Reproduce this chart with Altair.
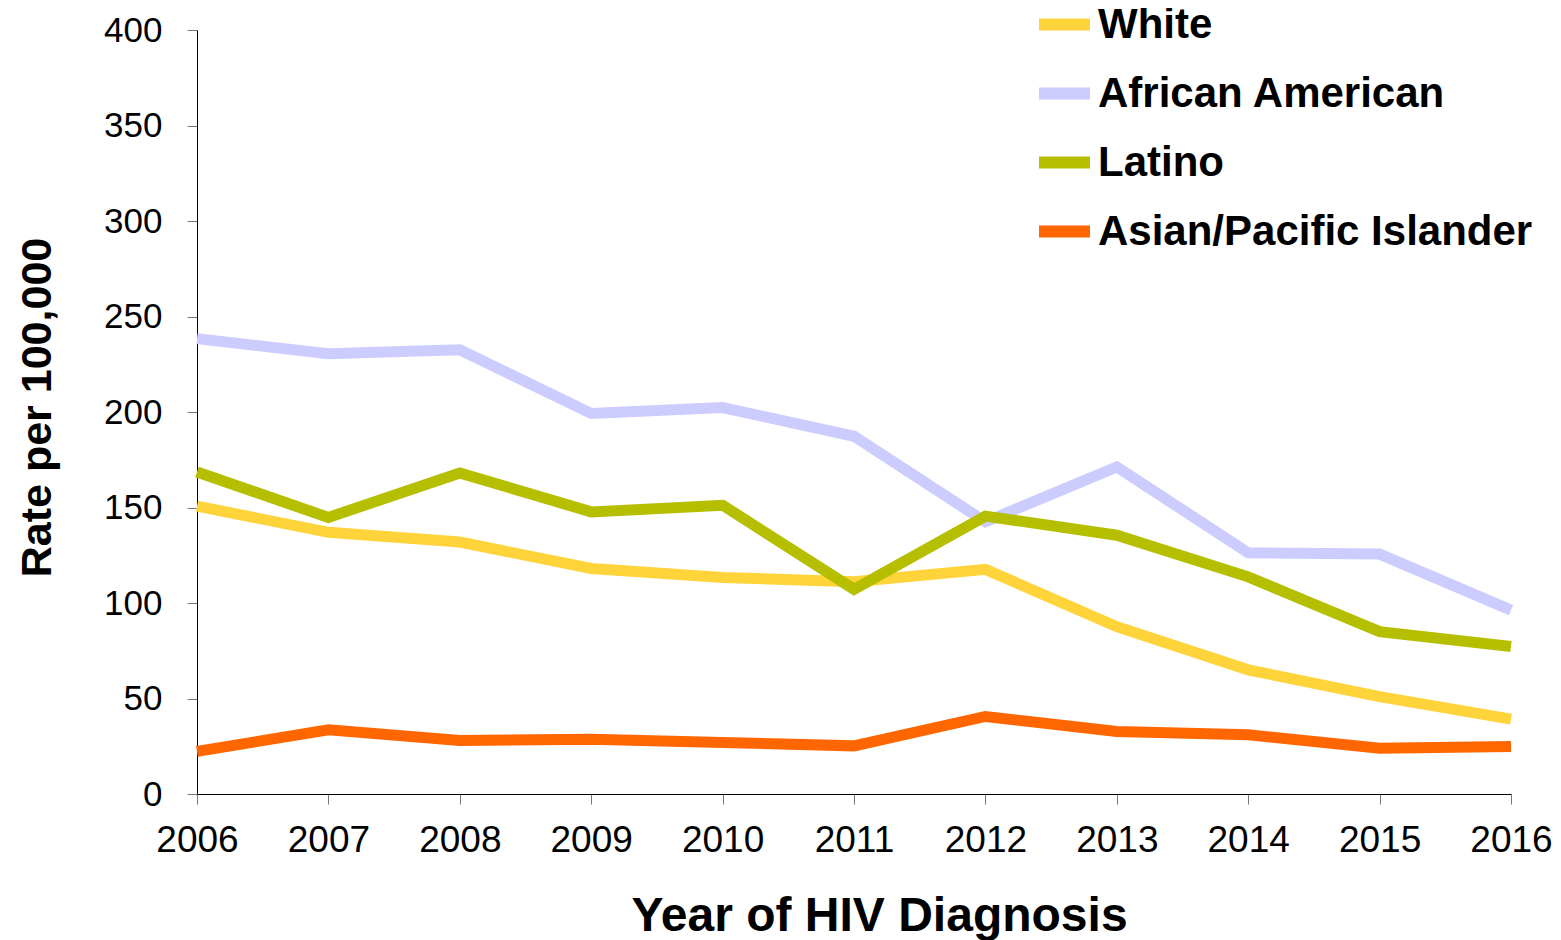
import altair as alt
import pandas as pd

years = [2006, 2007, 2008, 2009, 2010, 2011, 2012, 2013, 2014, 2015, 2016]
series_names = ["White", "African American", "Latino", "Asian/Pacific Islander"]
series_colors = ["#FFD33A", "#CCCCFF", "#B5BF00", "#FF6600"]
white = [150.7, 137.0, 131.9, 118.1, 113.4, 111.1, 117.6, 87.6, 65.0, 51.0, 39.2]
african_american = [238.4, 230.5, 232.6, 199.2, 202.3, 187.3, 142.5, 171.2, 126.3, 125.6, 96.3]
latino = [168.6, 144.8, 168.1, 147.7, 151.2, 107.2, 145.5, 135.5, 113.7, 85.0, 77.2]
asian_pi = [22.3, 33.6, 28.0, 28.7, 27.0, 25.2, 40.6, 32.7, 31.0, 24.0, 24.9]
y_ticks = [0, 50, 100, 150, 200, 250, 300, 350, 400]

values = [white, african_american, latino, asian_pi]
rows = []
for name, vals in zip(series_names, values):
    for yr, v in zip(years, vals):
        rows.append({"year": yr, "rate": v, "group": name})
df = pd.DataFrame(rows)

FONT = "Liberation Sans"

color = alt.Color(
    "group:N",
    scale=alt.Scale(domain=series_names, range=series_colors),
    legend=alt.Legend(
        title=None,
        orient="none",
        legendX=836,
        legendY=-37,
        symbolType="stroke",
        symbolSize=2601,
        symbolStrokeWidth=12,
        labelFont=FONT,
        labelFontSize=42,
        labelFontWeight="bold",
        labelColor="black",
        labelOffset=2,
        rowPadding=13,
        padding=0,
        labelLimit=600,
    ),
)

x = alt.X(
    "year:Q",
    scale=alt.Scale(domain=[2006, 2016], nice=False, zero=False),
    axis=alt.Axis(
        values=years,
        format="d",
        title="Year of HIV Diagnosis",
        titleFont=FONT,
        titleFontSize=48,
        titleFontWeight="bold",
        titleColor="black",
        titleX=682,
        titleY=136,
        titleAlign="center",
        titleBaseline="alphabetic",
        labelFont=FONT,
        labelFontSize=37,
        labelColor="black",
        labelPadding=18,
        tickSize=10,
        tickColor="#777777",
        domainColor="black",
        grid=False,
        labelFlush=False,
        labelOverlap=False,
    ),
)

y = alt.Y(
    "rate:Q",
    scale=alt.Scale(domain=[0, 400], nice=False),
    axis=alt.Axis(
        values=y_ticks,
        title="Rate per 100,000",
        titleFont=FONT,
        titleFontSize=43,
        titleFontWeight="bold",
        titleColor="black",
        titleAngle=270,
        titleX=-160,
        titleY=377,
        titleAlign="center",
        titleBaseline="middle",
        labelFont=FONT,
        labelFontSize=35,
        labelColor="black",
        labelPadding=25,
        tickSize=10,
        tickColor="#777777",
        domainColor="black",
        grid=False,
        labelFlush=False,
        labelOverlap=False,
    ),
)

layers = []
for name in series_names:
    layers.append(
        alt.Chart(df)
        .transform_filter(alt.datum.group == name)
        .mark_line(strokeWidth=11, strokeJoin="miter", strokeCap="butt")
        .encode(x=x, y=y, color=color)
    )

chart = (
    alt.layer(*layers)
    .properties(
        width=1314,
        height=764,
        autosize=alt.AutoSizeParams(type="none"),
        padding={"left": 189, "top": 22, "right": 42, "bottom": 146},
    )
    .configure(background="white", view=alt.ViewConfig(stroke=None))
)

chart.save("out.html", embed_options={"renderer": "svg", "actions": False})
